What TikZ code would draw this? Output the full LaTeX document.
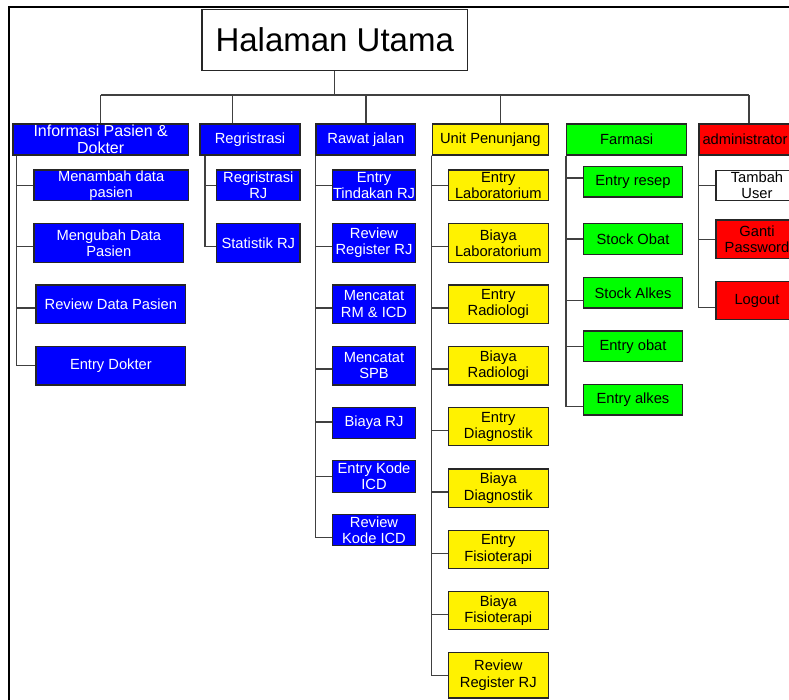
\documentclass[tikz,border=0pt]{standalone}
\usepackage{fontspec}
\setmainfont{Liberation Sans}
\begin{document}
\begin{tikzpicture}[x=1pt,y=-1pt,
  box/.style={draw=black!85, line width=1.3pt, inner sep=0pt, align=center,
    font=\fontsize{14.7}{16.3}\selectfont},
  bluebox/.style={box, fill=blue, text=white},
  yelbox/.style={box, fill=yellow, text=black},
  grnbox/.style={box, fill=green, text=black},
  redbox/.style={box, fill=red, text=black},
  whtbox/.style={box, fill=white, text=black},
  conn/.style={draw=black!75, line width=1.3pt}]
\useasboundingbox (0,0) rectangle (789,699);
\clip (0,0) rectangle (789,699);
% frame
\draw[line width=2.2pt] (9,720) -- (9,7) -- (800,7);
% top
\node[box, fill=white, minimum width=265.5pt, minimum height=61pt, font=\fontsize{33}{36}\selectfont] (hal) at (334.75,40) {Halaman Utama};
% level 1
\node[bluebox, minimum width=175.3pt, minimum height=31pt, font=\fontsize{16}{17.3}\selectfont] (info) at (100.65,139.5) {Informasi Pasien \&\\Dokter};
\node[bluebox, minimum width=100pt, minimum height=31pt] (reg) at (250,139.5) {Regristrasi};
\node[bluebox, minimum width=99.7pt, minimum height=31pt] (rj) at (365.85,139.5) {Rawat jalan};
\node[yelbox, minimum width=116pt, minimum height=31pt] (up) at (490.3,139.5) {Unit Penunjang};
\node[grnbox, minimum width=120pt, minimum height=31pt] (far) at (626.7,139.5) {Farmasi};
\node[redbox, minimum width=92pt, minimum height=31pt] (adm) at (745,139.5) {administrator};
% bus
\coordinate (busL) at (100.65,95);
\coordinate (busR) at (749,95);
\draw[conn] (hal.south) -- (hal.south |- busL);
\draw[conn] (busL) -- (busR);
\draw[conn] (busL) -- (info.north);
\draw[conn] ([xshift=-17.3pt]reg.north) -- ([xshift=-17.3pt]reg.north |- busL);
\draw[conn] (rj.north) -- (rj.north |- busL);
\draw[conn] ([xshift=10.4pt]up.north) -- ([xshift=10.4pt]up.north |- busL);
\draw[conn] (busR) -- (busR |- adm.north);
% informasi children
\node[bluebox, minimum width=154.3pt, minimum height=30.7pt] (i1) at (111.15,185.35) {Menambah data\\pasien};
\node[bluebox, minimum width=149.7pt, minimum height=38.6pt] (i2) at (108.85,243) {Mengubah Data\\Pasien};
\node[bluebox, minimum width=149.7pt, minimum height=38.3pt] (i3) at (110.85,304.15) {Review Data Pasien};
\node[bluebox, minimum width=149.7pt, minimum height=38.7pt] (i4) at (110.85,365.65) {Entry Dokter};
\draw[conn] ([xshift=4.3pt]info.south west) |- ([yshift=-0.35pt]i1.west);
\draw[conn] ([xshift=4.3pt]info.south west) |- ([yshift=-3.7pt]i2.west);
\draw[conn] ([xshift=4.3pt]info.south west) |- ([yshift=-3.85pt]i3.west);
\draw[conn] ([xshift=4.3pt]info.south west) |- (i4.west);
% regristrasi children
\node[bluebox, minimum width=83.3pt, minimum height=30.7pt] (r1) at (258.35,185.35) {Regristrasi\\RJ};
\node[bluebox, minimum width=83.3pt, minimum height=38.6pt] (r2) at (258.35,243) {Statistik RJ};
\draw[conn] ([xshift=5.7pt]reg.south west) |- ([yshift=-0.35pt]r1.west);
\draw[conn] ([xshift=5.7pt]reg.south west) |- ([yshift=-3.7pt]r2.west);
% rawat jalan children
\node[bluebox, minimum width=83.4pt, minimum height=30.7pt] (j1) at (374,185.35) {Entry\\Tindakan RJ};
\node[bluebox, minimum width=83.4pt, minimum height=38.6pt] (j2) at (374,243) {Review\\Register RJ};
\node[bluebox, minimum width=83.4pt, minimum height=38.3pt] (j3) at (374,304.15) {Mencatat\\RM \& ICD};
\node[bluebox, minimum width=83.4pt, minimum height=38.7pt] (j4) at (374,365.65) {Mencatat\\SPB};
\node[bluebox, minimum width=83.4pt, minimum height=31pt] (j5) at (374,422.8) {Biaya RJ};
\node[bluebox, minimum width=83.4pt, minimum height=31.6pt] (j6) at (374,476.5) {Entry Kode\\ICD};
\node[bluebox, minimum width=83.4pt, minimum height=31.4pt] (j7) at (374,530) {Review\\Kode ICD};
\draw[conn] (rj.south west) |- ([yshift=-0.35pt]j1.west);
\draw[conn] (rj.south west) |- ([yshift=-3.7pt]j2.west);
\draw[conn] (rj.south west) |- ([yshift=-3.85pt]j3.west);
\draw[conn] (rj.south west) |- ([yshift=-3.35pt]j4.west);
\draw[conn] (rj.south west) |- ([yshift=0.8pt]j5.west);
\draw[conn] (rj.south west) |- (j6.west);
\draw[conn] (rj.south west) |- ([yshift=-7.3pt]j7.west);
% unit penunjang children
\node[yelbox, minimum width=100pt, minimum height=30.7pt] (u1) at (498.3,185.35) {Entry\\Laboratorium};
\node[yelbox, minimum width=100pt, minimum height=38.6pt] (u2) at (498.3,243) {Biaya\\Laboratorium};
\node[yelbox, minimum width=100pt, minimum height=38.3pt] (u3) at (498.3,304.15) {Entry\\Radiologi};
\node[yelbox, minimum width=100pt, minimum height=38.7pt] (u4) at (498.3,365.65) {Biaya\\Radiologi};
\node[yelbox, minimum width=100pt, minimum height=38pt] (u5) at (498.3,426.7) {Entry\\Diagnostik};
\node[yelbox, minimum width=100pt, minimum height=38.3pt] (u6) at (498.3,488.15) {Biaya\\Diagnostik};
\node[yelbox, minimum width=100pt, minimum height=38.4pt] (u7) at (498.3,549.5) {Entry\\Fisioterapi};
\node[yelbox, minimum width=100pt, minimum height=38pt] (u8) at (498.3,610.7) {Biaya\\Fisioterapi};
\node[yelbox, minimum width=100pt, minimum height=45.7pt] (u9) at (498.3,675.2) {Review\\Register RJ};
\draw[conn] (up.south west) |- ([yshift=-0.35pt]u1.west);
\draw[conn] (up.south west) |- ([yshift=-3.7pt]u2.west);
\draw[conn] (up.south west) |- ([yshift=-3.85pt]u3.west);
\draw[conn] (up.south west) |- ([yshift=-3.35pt]u4.west);
\draw[conn] (up.south west) |- ([yshift=-4pt]u5.west);
\draw[conn] (up.south west) |- ([yshift=-3.85pt]u6.west);
\draw[conn] (up.south west) |- ([yshift=-3.8pt]u7.west);
\draw[conn] (up.south west) |- ([yshift=-3.6pt]u8.west);
\draw[conn] (up.south west) |- (u9.west);
% farmasi children
\node[grnbox, minimum width=99.4pt, minimum height=30.3pt] (f1) at (633,181.85) {Entry resep};
\node[grnbox, minimum width=99.4pt, minimum height=30.6pt] (f2) at (633,239) {Stock Obat};
\node[grnbox, minimum width=99.4pt, minimum height=30.3pt] (f3) at (633,292.85) {Stock Alkes};
\node[grnbox, minimum width=99.4pt, minimum height=30.7pt] (f4) at (633,346.35) {Entry obat};
\node[grnbox, minimum width=99.4pt, minimum height=30.3pt] (f5) at (633,399.85) {Entry alkes};
\draw[conn] (far.south west) |- ([yshift=3.85pt]f1.west);
\draw[conn] (far.south west) |- (f2.west);
\draw[conn] (far.south west) |- ([yshift=-7.45pt]f3.west);
\draw[conn] (far.south west) |- (f4.west);
\draw[conn] (far.south west) |- ([yshift=-6.85pt]f5.west);
% administrator children
\node[whtbox, minimum width=82pt, minimum height=30.4pt] (a1) at (757,185.5) {Tambah\\User};
\node[redbox, minimum width=82pt, minimum height=38.3pt] (a2) at (757,239.15) {Ganti\\Password};
\node[redbox, minimum width=82pt, minimum height=37.6pt] (a3) at (757,300.5) {Logout};
\draw[conn] (adm.south west) |- (a1.west);
\draw[conn] (adm.south west) |- (a2.west);
\draw[conn] (adm.south west) |- ([yshift=-7.2pt]a3.west);
\end{tikzpicture}
\end{document}
